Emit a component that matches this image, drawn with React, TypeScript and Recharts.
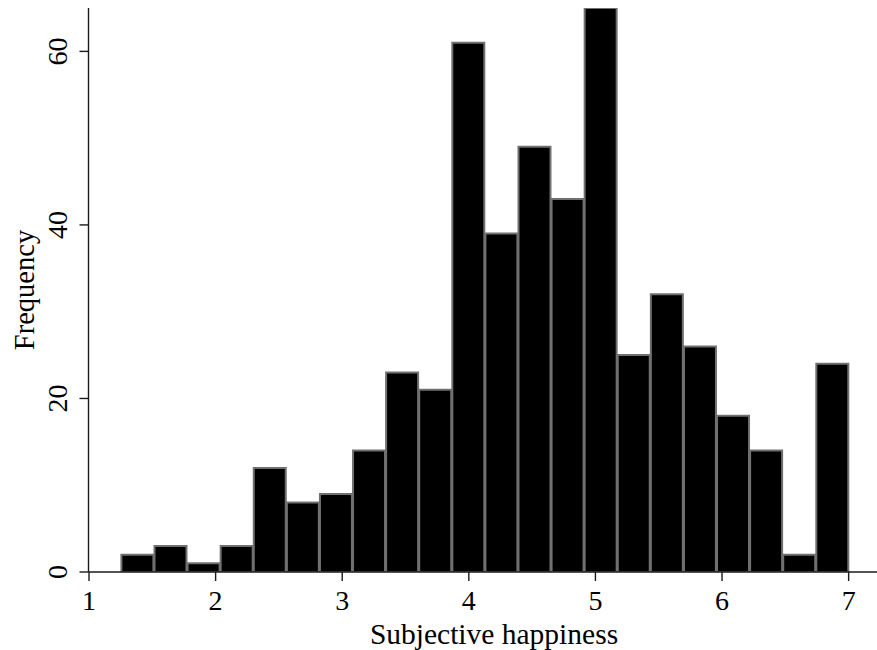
import React from 'react';
import { ComposedChart, Bar, XAxis, YAxis } from 'recharts';

// ---- data ----
const binStart = 1.25;
const binEnd = 7;
const frequencies = [2, 3, 1, 3, 12, 8, 9, 14, 23, 21, 61, 39, 49, 43, 65, 25, 32, 26, 18, 14, 2, 24];
const xTicks = [1, 2, 3, 4, 5, 6, 7];
const yTicks = [0, 20, 40, 60];
const xLabel = 'Subjective happiness';
const yLabel = 'Frequency';

// ---- layout ----
const W = 877;
const H = 650;
const TOP = 8;
const YAXIS_W = 88.5;
const XAXIS_H = 78;
const X_MIN = 0.996;
const X_MAX = 7.224;
const Y_MAX = 65;
const FONT = '"Liberation Serif", "Times New Roman", serif';
const FS = 28;
const AXIS_COLOR = '#1a1a1a';

const binWidth = (binEnd - binStart) / frequencies.length;
const data = frequencies.map((f, i) => ({
  bin: i,
  center: binStart + (i + 0.5) * binWidth,
  freq: f,
}));

const plotW = W - YAXIS_W;
const plotH = H - TOP - XAXIS_H;
const pxPerUnit = plotW / (X_MAX - X_MIN);
const padLeft = (binStart - X_MIN) * pxPerUnit;
const padRight = (X_MAX - binEnd) * pxPerUnit;

const XTick = (props: any) => {
  const { x, y, payload } = props;
  return (
    <text x={x} y={y} dy={27} textAnchor="middle" fontSize={FS} fontFamily={FONT} fill="#000">
      {payload.value}
    </text>
  );
};

const YTick = (props: any) => {
  const { x, y, payload } = props;
  return (
    <text
      x={x}
      y={y}
      transform={`rotate(-90 ${x} ${y})`}
      textAnchor="middle"
      fontSize={FS}
      fontFamily={FONT}
      fill="#000"
    >
      {payload.value}
    </text>
  );
};

const XLabel = () => (
  <text x={494} y={644} textAnchor="middle" fontSize={29.5} fontFamily={FONT} fill="#000">
    {xLabel}
  </text>
);

const YLabel = () => {
  const cy = TOP + plotH / 2;
  const bx = 34;
  return (
    <text
      x={bx}
      y={cy}
      transform={`rotate(-90 ${bx} ${cy})`}
      textAnchor="middle"
      fontSize={28.5}
      fontFamily={FONT}
      fill="#000"
    >
      {yLabel}
    </text>
  );
};

export default function App() {
  return (
    <div style={{ position: 'absolute', left: 0, top: 0, background: '#fff' }}>
      <ComposedChart
        width={W}
        height={H}
        data={data}
        margin={{ top: TOP, right: 0, bottom: 0, left: 0 }}
        barCategoryGap={0.75}
      >
        <XAxis
          xAxisId="bins"
          dataKey="bin"
          type="category"
          hide
          height={0}
          padding={{ left: padLeft, right: padRight }}
        />
        <XAxis
          xAxisId="val"
          dataKey="center"
          type="number"
          domain={[X_MIN, X_MAX]}
          allowDataOverflow
          ticks={xTicks}
          interval={0}
          height={XAXIS_H}
          tickSize={9}
          tickMargin={2}
          axisLine={{ stroke: AXIS_COLOR, strokeWidth: 1.4 }}
          tickLine={{ stroke: AXIS_COLOR, strokeWidth: 1.4 }}
          tick={<XTick />}
          label={<XLabel />}
        />
        <YAxis
          type="number"
          domain={[0, Y_MAX]}
          allowDataOverflow
          ticks={yTicks}
          interval={0}
          width={YAXIS_W}
          tickSize={9}
          tickMargin={12.5}
          axisLine={{ stroke: AXIS_COLOR, strokeWidth: 1.4 }}
          tickLine={{ stroke: AXIS_COLOR, strokeWidth: 1.4 }}
          tick={<YTick />}
          label={<YLabel />}
        />
        <Bar
          xAxisId="bins"
          dataKey="freq"
          fill="#000"
          stroke="#707070"
          strokeWidth={2}
          isAnimationActive={false}
        />
      </ComposedChart>
    </div>
  );
}
